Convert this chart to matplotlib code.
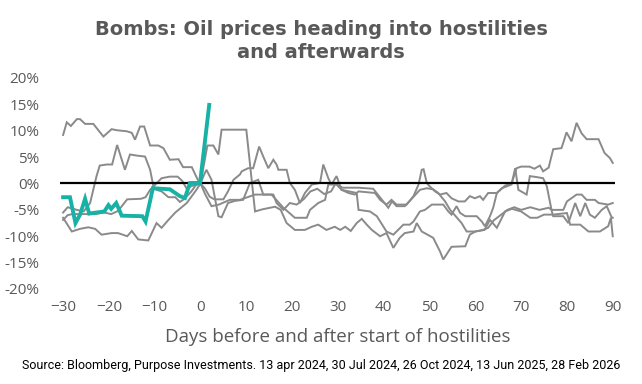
import matplotlib
matplotlib.use("Agg")
import matplotlib.pyplot as plt
from matplotlib.ticker import FuncFormatter

# ---- data (days relative to start of hostilities, % change) ----
series_a = [(-30, 9.2), (-29.2, 11.6), (-28.3, 10.9), (-27, 12.2), (-26.3, 12.2), (-25.2, 11.3), (-23.4, 11.3),
            (-21.2, 8.9), (-19.4, 10.3), (-18.3, 10.1), (-16.1, 9.9), (-15, 9.6), (-14.3, 8.3), (-13.2, 10.8),
            (-12.3, 10.8), (-11, 7.2), (-9.2, 7.2), (-8.1, 6.7), (-6.7, 4.5), (-4.8, 4.6), (-3.8, 3.1), (-1.9, 3.1),
            (-0.6, 0.7), (0, 0), (1.5, 7.2), (2.8, 7.2), (3.9, 5.5), (4.6, 10.2), (7.5, 10.2), (10, 10.2),
            (11.9, -5.3), (13.5, -4.9), (16.3, -4.4), (17.5, -5.0), (18.8, -7.5), (20.6, -8.8), (22.8, -8.8),
            (24.3, -8.2), (25.7, -7.8), (27.5, -8.8), (29.3, -8.2), (30.5, -8.8), (31.6, -8.2), (32.8, -9.0),
            (34.1, -7.5), (35.2, -6.7), (36.3, -7.8), (37.4, -8.8), (39.2, -10.0), (40.6, -9.4), (42.1, -12.2),
            (43.5, -10.3), (44.6, -9.4), (46.5, -9.1), (47.2, -7.5), (48.3, -9.1), (50.8, -10.3), (52.3, -12.9),
            (53, -14.4), (54.8, -12.0), (57.8, -11.9), (58.8, -9.7), (60, -9.1), (61.7, -8.8), (62.8, -8.4),
            (64, -7.0), (65.5, -6.0), (67, -5.0), (68.5, -4.5), (70, -5.0), (72, -4.5), (74, -5.0), (76, -4.6),
            (76.7, -5.0), (79.2, -5.0), (80, -3.4), (82.1, -2.1), (83.2, -2.1), (84.3, -3.1), (86.1, -3.1),
            (86.9, -3.7), (89, -4.0), (90, -3.7)]

series_b = [(-30, -5.5), (-29, -4.5), (-27, -5.0), (-25.5, -5.3), (-24.1, -3.7), (-22.7, 1.4), (-22, 3.4),
            (-20.5, 3.6), (-19.3, 3.6), (-18.2, 7.3), (-16.5, 2.6), (-15.4, 5.5), (-14, 5.3), (-12.1, 5.1),
            (-11, 2.6), (-10.3, -0.5), (-9.6, -1.2), (-8.5, -1.5), (-7, -2.6), (-5.5, -2.6), (-4.5, -3.5),
            (-3.5, -2.9), (-2, -1.5), (-1, -0.3), (0, 0), (0.7, 1.5), (1.3, 2.6), (2.4, 0.7), (3.9, -6.2),
            (4.6, -6.4), (6, -3.7), (7.5, -3.3), (9.3, -3.1), (10.8, 0.1), (12.6, 0.7), (13.7, -2.1), (15.5, -2.1),
            (18.1, -4.6), (20.6, -6.5), (23.2, -6.5), (23.9, -5.0), (25.7, -3.7), (27.2, -3.1), (27.9, -0.2),
            (29.7, -0.2), (30.8, -1.2), (34.1, -1.8), (34.5, -5.0), (37, -5.3), (38.5, -6.2), (40.6, -9.1),
            (42.1, -9.7), (44.3, -7.8), (45.7, -7.8), (46.5, -7.2), (47.9, -5.3), (49, -5.0), (50.5, -4.0),
            (53, -4.0), (54.1, -5.3), (54.8, -5.9), (55.9, -4.3), (56.7, -5.6), (57.8, -6.2), (60.3, -6.2),
            (61.4, -7.2), (62.1, -8.1), (63.2, -6.2), (63.9, -4.6), (64.7, -1.8), (65.8, -0.9), (67.9, -0.2),
            (68.7, 2.9), (69.4, -1.2), (71.2, -2.1), (71.9, 1.4), (73.5, 1.2), (74.8, 1.0), (75.6, -0.5),
            (76.7, -5.3), (77, -6.2), (79.2, -6.2), (80.3, -7.5), (81.8, -3.7), (82.9, -6.2), (84, -3.7),
            (85, -5.9), (86.1, -6.5), (87.6, -5.0), (88.7, -4.3), (89.8, -6.5), (90, -6.5)]

series_c = [(-30, -6.9), (-29, -6.0), (-28, -5.8), (-25, -5.8), (-23, -5.8), (-21, -5.5), (-19.5, -5.8),
            (-18, -5.2), (-16, -3.0), (-13, -2.9), (-12, -2.6), (-11, -1.2), (-8.5, 1.0), (-6.7, 1.3), (-5, 1.3),
            (-4, 0.5), (-3, -1.0), (-2, -0.5), (0, 0), (1, -1.0), (2, -2.5), (3, -3.0), (5, -3.0), (6, -1.5),
            (7.2, 0.7), (8.6, 1.7), (9, 2.3), (10.4, 2.9), (11.5, 2.9), (12.8, 7.0), (13.7, 5.1), (14.8, 2.9),
            (15.9, 4.5), (16.6, 3.6), (17, 2.6), (18.8, 2.6), (19.5, 0.1), (20.6, -1.2), (21.7, -3.7),
            (22.8, -1.8), (24.3, -0.2), (26.1, 0.1), (26.8, 3.6), (27.9, 1.0), (28.6, -0.2), (29.7, 1.4),
            (30.8, -1.2), (32.3, -1.8), (33.7, -2.1), (34.5, -1.5), (38.1, -1.8), (39.2, -3.1), (40.6, -4.0),
            (41.7, -3.1), (42.8, -4.0), (45, -4.0), (46.5, -2.4), (47.6, -0.2), (48.3, 2.6), (48.7, 2.7),
            (49.4, 0.1), (50, -0.5), (51.2, -1.5), (52.3, -2.1), (53.7, -1.8), (54.8, -2.8), (56.3, -3.4),
            (57.7, -3.4), (58.8, -2.4), (59.9, -2.8), (61, -2.4), (61.7, -3.1), (62.8, -1.8), (64.7, -1.8),
            (66.5, -0.4), (67.9, 0.0), (69, 2.9), (70, 3.2), (71.8, 3.2), (72.9, 2.8), (74.1, 3.4), (74.8, 2.3),
            (76, 3.0), (77, 6.5), (78.8, 6.7), (79.3, 8.0), (79.9, 9.7), (81, 8.0), (82.1, 11.5), (83.2, 9.5),
            (84.3, 8.4), (86.9, 8.4), (88.2, 5.8), (89.4, 4.8), (90, 3.9)]

series_d = [(-30, -6.5), (-28.1, -9.1), (-26.3, -8.6), (-24.5, -8.3), (-23, -8.6), (-21.6, -9.7), (-19.4, -9.4),
            (-18, -9.4), (-16, -10.0), (-15, -9.0), (-13.6, -10.6), (-11.4, -10.8), (-9.6, -7.5), (-8.5, -8.4),
            (-7, -6.9), (-5.5, -5.5), (-3, -3.7), (-0.9, -1.2), (0, 0), (1, -2.0), (2.4, -4.3), (4, -4.0),
            (6.4, -3.1), (8.6, -3.1), (11.9, -2.1), (15.9, -2.1), (16.6, -3.7), (18.1, -5.0), (19.5, -3.7),
            (21, -4.0), (22.5, -3.0), (24, -1.5), (25.5, -1.0), (27, -2.0), (28.5, -1.5), (29.5, 0.0),
            (31, -0.8), (34.5, -0.8), (37.7, -1.0), (39.9, -3.4), (41, -4.6), (41.8, -3.4), (42.8, -4.3),
            (44.6, -4.3), (46, -3.0), (47.9, -1.2), (49.4, -0.9), (50.8, -1.1), (51.9, -1.8), (53.4, -3.4),
            (54.5, -5.0), (57, -7.5), (58.1, -9.1), (60, -9.1), (62, -8.8), (63.2, -6.9), (64.7, -8.4),
            (66.5, -5.3), (68, -4.8), (70, -5.3), (72, -6.5), (73.5, -6.5), (75, -5.9), (77, -5.9), (80, -5.6),
            (80.7, -7.8), (82.9, -7.8), (84.7, -9.1), (87.2, -9.1), (89, -8.1), (89.6, -6.5), (90, -10.0)]

series_2026 = [(-30, -2.6), (-28.5, -2.6), (-27.3, -7.5), (-26.3, -5.9), (-25.2, -2.9), (-24.3, -5.7),
               (-22.7, -5.5), (-21, -5.3), (-20.1, -4.1), (-19.5, -4.8), (-18.4, -3.7), (-17.2, -6.1),
               (-12.7, -6.2), (-12, -7.2), (-10.4, -0.9), (-6.7, -1.1), (-4.5, -2.4), (-3.4, -2.75),
               (-2.3, 0.1), (-0.1, 0.1), (1.9, 14.9)]

x_ticks = [-30, -20, -10, 0, 10, 20, 30, 40, 50, 60, 70, 80, 90]
y_ticks = [-20, -15, -10, -5, 0, 5, 10, 15, 20]

title = "Bombs: Oil prices heading into hostilities\nand afterwards"
x_label = "Days before and after start of hostilities"
source = ("Source: Bloomberg, Purpose Investments. 13 apr 2024, 30 Jul 2024, "
          "26 Oct 2024, 13 Jun 2025, 28 Feb 2026")

GRAY = "#8a8a8a"
TEAL = "#17b2a6"
TXT = "#595959"

fig = plt.figure(figsize=(6.42, 3.84), dpi=100)
ax = fig.add_axes([0.094, 0.2474, 0.864, 0.5495])

for s in (series_a, series_b, series_c, series_d):
    xs = [p[0] for p in s]
    ys = [p[1] for p in s]
    ax.plot(xs, ys, color=GRAY, lw=1.4, solid_joinstyle="miter", zorder=2)

ax.axhline(0, color="black", lw=1.6, zorder=3)

ax.plot([p[0] for p in series_2026], [p[1] for p in series_2026], color=TEAL, lw=2.8,
        solid_joinstyle="miter", zorder=4)

ax.set_xlim(-30.6, 90.5)
ax.set_ylim(-20, 20)
ax.set_xticks(x_ticks)
ax.set_yticks(y_ticks)
ax.yaxis.set_major_formatter(FuncFormatter(lambda v, p: f"{int(v)}%"))
for sp in ax.spines.values():
    sp.set_visible(False)
ax.tick_params(axis="both", length=0, labelsize=11, labelcolor=TXT, colors=TXT)
ax.tick_params(axis="x", pad=8)
ax.tick_params(axis="y", pad=15)
for lab in ax.get_xticklabels() + ax.get_yticklabels():
    lab.set_fontfamily("Open Sans")

ax.set_xlabel(x_label, fontsize=13.5, color=TXT, family="Open Sans", labelpad=9)

fig.text(0.5, 0.893, title, ha="center", va="center", fontsize=14, fontweight="bold",
         color=TXT, family="DejaVu Sans", linespacing=1.25)
fig.text(0.5, 0.047, source, ha="center", va="center", fontsize=9,
         color="black", family="Roboto")

fig.savefig("out.png", dpi=100)
